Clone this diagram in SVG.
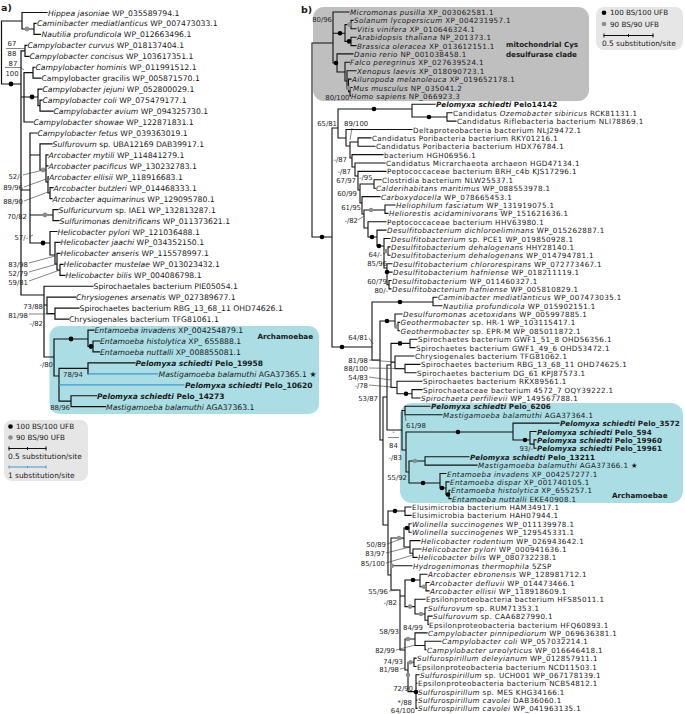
<svg xmlns="http://www.w3.org/2000/svg" width="685" height="714" viewBox="0 0 685 714">
<style>
text{font-family:"DejaVu Sans","Liberation Sans",sans-serif;font-size:7.7px;fill:#1a1a1a}
.i{font-style:italic}
.b{font-weight:bold}
.pa .b{font-size:7.5px}
.pb text{font-size:7.2px;letter-spacing:0.35px}
.pb text.b{letter-spacing:0.1px}
text.s{font-size:6.9px;fill:#2a2a2a;letter-spacing:0}
.lg text{font-size:7.2px}
.e{stroke:#111;stroke-width:1.2;fill:none;stroke-linecap:square}
.bl{stroke:#3d9ad6;stroke-width:1.2;fill:none}
.ld{stroke:#333;stroke-width:0.6;fill:none}
.k{fill:#000}
.g{fill:#8e8e8e}
text.hd{font-size:9.5px;font-weight:bold}
text.bt{font-size:7.2px;font-weight:bold}
</style>
<rect width="685" height="714" fill="#fff"/>
<g id="a-archamoebae-box"><rect x="49.5" y="326" width="269.5" height="88" rx="10" fill="#aadde4"/><text x="257.5" y="339" class="bt">Archamoebae</text></g>
<g id="a-legend" class="lg"><rect x="4" y="420" width="84" height="61" rx="8" fill="#e6e6e6"/>
<circle cx="10.5" cy="426.5" r="2.3" class="k"/><text x="16" y="429.2">100 BS/100 UFB</text>
<circle cx="10.5" cy="437.5" r="2.3" class="g"/><text x="16" y="440.2">90 BS/90 UFB</text>
<path class="e" d="M9 448.5H46M9 447V450M27.5 447.5V449.5M46 447V450" style="stroke-width:1"/>
<text x="8" y="459" style="font-size:7.4px">0.5 substitution/site</text>
<path class="bl" d="M9 467H46M9 465.5V468.5M27.5 466V468M46 465.5V468.5" style="stroke-width:1"/>
<text x="8" y="478" style="font-size:7.4px">1 substitution/site</text></g>
<g id="b-mito-box"><rect x="313" y="7" width="276" height="94" rx="11" fill="#bfbfbf"/><text x="506" y="47" class="bt" style="font-size:7.1px">mitochondrial Cys</text><text x="506" y="57" class="bt" style="font-size:7.1px">desulfurase clade</text></g>
<g id="b-archamoebae-box"><rect x="400" y="403" width="283" height="100" rx="12" fill="#aadde4"/><text x="612" y="498" class="bt">Archamoebae</text></g>
<g id="b-legend" class="lg"><rect x="596" y="7" width="87" height="43" rx="8" fill="#e6e6e6"/>
<circle cx="604" cy="12.7" r="2.3" class="k"/><text x="610" y="15.4">100 BS/100 UFB</text>
<circle cx="604" cy="24" r="2.3" class="g"/><text x="610" y="26.7">90 BS/90 UFB</text>
<path class="e" d="M604 35.5H653M604 34V37M628.5 34.5V36.5M653 34V37" style="stroke-width:1"/>
<text x="602" y="46" style="font-size:7.4px">0.5 substitution/site</text></g>
<g id="titles"><text x="1" y="11" class="hd">a)</text><text x="301" y="13" class="hd">b)</text></g>
<g id="connectors">
<path class="e" d="M1.5 21V84M1.5 21H22M22 12.5V29M22 12.5H47M22 29H34M34 23.45V34.4M34 23.45H36M34 34.4H40.5
M1.5 84H21M21 50.8V295
M21 50.8H25M25 45.35V56.3M25 45.35H27M25 56.3H29
M21 97H24M24 72.7V122M24 72.7H33M33 67.25V78.2M33 67.25H35M33 78.2H41
M24 97H38M38 89.15V105.6M38 89.15H42M38 105.6H40M40 100.1V111.05M40 100.1H42M40 111.05H53
M24 122H33
M21 190H30M30 133V243M30 133H37
M30 155H40M40 143.9V170M40 143.9H52M40 170H46M46 154.85V182M46 154.85H48M46 165.8H48M46 182H48M48 176.75V193M48 176.75H48.5M48 193H50M50 187.7V198.65M50 187.7H53M50 198.65H52
M30 215H53M53 209.6V220.55M53 209.6H58M53 220.55H59
M30 243H50M50 231.5V255M50 231.5H57M50 255H55M55 242.45V264M55 242.45H60M55 264H57M57 253.4V270M57 253.4H60M57 270H60M60 264.35V275.3M60 264.35H63M60 275.3H65
M21 295H44M44 286.25V357M44 286.25H93
M44 305H47M47 297.2V313.6M47 297.2H75.5M47 313.6H55M55 308.15V319.1M55 308.15H79M55 319.1H68.5
M44 357H54M54 339V376
M54 339H88M88 330.05V346.5M88 330.05H94M88 346.5H93M93 341V351.95M93 341H99.5M93 351.95H99.5
M54 376H59M59 368.4V401.2M59 368.4H88M88 362.9V373.85M88 362.9H135
M59 401.2H71M71 395.75V406.7M71 395.75H96.5M71 406.7H105.5"/>
<path class="bl" d="M88 373.85H158M59 384.8H184.5"/>
<path class="ld" d="M6 48.5H25M5 67.5H21L24 70M23 175L43 170M24 187L46 179M24 201L48 192M29 237L33 235M29 263L55 256M29 272L57 264M29 281L60 270M29 314H55"/>
<path class="e" style="stroke-width:1.1" d="M312 43V237M312 43H333M333 12V63M333 12H349
M333 33.2H345M345 24.6V41.4M345 24.6H351M351 20.4V28.8M351 20.4H353M351 28.8H356M345 41.4H351M351 37.2V45.6M351 37.2H356M351 45.6H356
M333 63H337M337 53.9V72M337 53.9H353M337 72H345M345 62.3V81M345 62.3H349.5M345 81H347M347 70.7V89M347 70.7H356M347 89H348.5M348.5 79.1V91.7M348.5 79.1H351M348.5 91.7H350M350 87.5V95.9M350 87.5H352M350 95.9H350.5
M312 237H332M332 128V347M332 128H338M338 109V138
M338 109H412M412 104.3V117M412 104.3H435M412 117H447M447 112.7V121.1M447 112.7H452M447 121.1H456
M338 138H346M346 129.5V146M346 129.5H412
M346 146H350M350 142V158M350 142H358M358 137.9V146.2M358 137.9H371M358 146.2H375
M350 158H352M352 154.6V167M352 154.6H383
M352 167H355M355 163V176M355 163H385
M355 176H358M358 171.4V190M358 171.4H386
M358 190H360M360 184V203M360 184H374M374 179.8V188.2M374 179.8H381M374 188.2H375.5
M360 203H362M362 196.6V214M362 196.6H380
M362 214H364M364 210V228M364 210H385M385 205V213.4M385 205H395M385 213.4H388
M364 228H368M368 221.8V237M368 221.8H386
M368 237H377M377 230.1V246M377 230.1H386
M377 246H384M384 238.5V268M384 238.5H390M384 251.1H388M388 246.9V255.3M388 246.9H390M388 255.3H390
M384 268H387M387 263.7V284.7M387 263.7H392M387 272.1H392M387 284.7H389M389 280.5V288.9M389 280.5H391M389 288.9H391
M332 347H372M372 302V360M372 302H433M433 297.3V305.7M433 297.3H437M433 305.7H442
M372 360H380M380 321V440M380 321H395M395 314V326.6M395 314H402M395 326.6H398M398 322.4V330.8M398 322.4H399.5M398 330.8H399.5
M380 440H383M383 397V525M383 397H387M387 365V430M387 365H391M391 343.4V387.5
M391 343.4H410M410 339.2V347.6M410 339.2H417M410 347.6H415
M391 362.3H395M395 356V368.6M395 356H414M395 368.6H405M405 364.4V372.8M405 364.4H420M405 372.8H416
M391 387.5H397M397 381.2V393.8M397 381.2H422M397 393.8H412M412 389.6V398M412 389.6H422M412 398H420
M387 430H402M402 410.5V450M402 410.5H405M405 406.3V414.7M405 406.3H430M405 414.7H442
M402 450H406M406 432V472M406 432H513M513 423.1V440M513 423.1H559M513 440H530M530 431.5V444.1M530 431.5H536M530 444.1H534M534 439.9V448.3M534 439.9H536M534 448.3H536
M406 472H409M409 461V483M409 461H425M425 456.7V465.1M425 456.7H469M425 465.1H477
M409 483H440M440 473.5V488M440 473.5H446M440 488H446M446 481.9V494.5M446 481.9H449M446 494.5H449M449 490.3V498.6M449 490.3H450M449 498.6H451
M383 525H388M388 511V575M388 511H405M405 507V515.4M405 507H411M405 515.4H411
M388 575H391M391 538V590M391 538H404M404 528V547M404 528H409M409 523.8V532.2M409 523.8H411M409 532.2H411
M404 547H410M410 540.6V553.2M410 540.6H420M410 553.2H413M413 549V557.4M413 549H421M413 557.4H417
M391 565.8H412
M391 590H400V650M400 596H405M405 580V606.6
M405 580H420M420 574.2V586.7M420 574.2H427M420 586.7H426M426 582.5V590.9M426 582.5H429M426 590.9H429
M405 606.6H415M415 599.3V614M415 599.3H425M415 614H425M425 607.7V620.3M425 607.7H427M425 620.3H428M428 616.1V624.5M428 616.1H432M428 624.5H428.5
M400 650H405M405 639V670M405 639H415M415 632.9V645.5M415 632.9H427M415 645.5H425M425 641.3V649.7M425 641.3H441M425 649.7H426
M405 670H408M408 662.3V691.6M408 662.3H414M414 658.1V666.5M414 658.1H416M414 666.5H416
M408 691.6H416M416 674.8V708.4M416 674.8H419M416 683.2H417M416 691.6H417M416 700H417M416 708.4H417"/>
<path class="ld" d="M352 128L350 140M358 220L364 216M383 254L388 251M369 338L373 344M369 360L395 362M369 368L405 368.6M369 377L391 380M369 385L397 387.5M406 421L405 415M388 437.5H399M387 544L404 538M386 553L410 547M386 563L413 555M389 591L398 590M396 650L415 645M400 669L405 668"/>
</g>
<g id="support-dots">
<circle cx="11" cy="84" r="2.4" class="k"/><circle cx="27" cy="29" r="2.4" class="g"/><circle cx="32" cy="97" r="2.4" class="k"/><circle cx="43" cy="170" r="2.4" class="g"/><circle cx="45" cy="215" r="2.4" class="g"/><circle cx="43" cy="243" r="2.4" class="k"/><circle cx="71" cy="339" r="2.4" class="k"/><circle cx="91" cy="346.5" r="2.4" class="k"/>
<circle cx="340" cy="33.2" r="2.3" class="k"/><circle cx="349" cy="41.4" r="2.3" class="k"/><circle cx="336" cy="63" r="2.3" class="k"/><circle cx="322" cy="237" r="2.3" class="k"/><circle cx="374" cy="109" r="2.3" class="k"/><circle cx="429" cy="117" r="2.3" class="k"/><circle cx="379" cy="246" r="2.3" class="k"/><circle cx="387" cy="272" r="2.3" class="k"/><circle cx="372" cy="237" r="2.3" class="k"/><circle cx="342" cy="347" r="2.3" class="k"/><circle cx="400" cy="302" r="2.3" class="k"/><circle cx="387" cy="321" r="2.3" class="k"/><circle cx="400" cy="343.4" r="2.3" class="k"/><circle cx="406" cy="393.8" r="2.3" class="k"/><circle cx="458" cy="432" r="2.3" class="k"/><circle cx="525" cy="440" r="2.3" class="k"/><circle cx="423" cy="483" r="2.3" class="k"/><circle cx="442" cy="488" r="2.3" class="k"/><circle cx="448" cy="494.5" r="2.3" class="k"/><circle cx="395" cy="511" r="2.3" class="k"/><circle cx="407" cy="528" r="2.3" class="k"/><circle cx="413" cy="580" r="2.3" class="k"/><circle cx="416" cy="692" r="2.3" class="k"/>
<circle cx="349.5" cy="24.6" r="2.3" class="g"/><circle cx="348.5" cy="88" r="2.3" class="g"/><circle cx="371" cy="210" r="2.3" class="g"/><circle cx="386" cy="251.1" r="2.3" class="g"/><circle cx="396.5" cy="326.6" r="2.3" class="g"/><circle cx="415" cy="461" r="2.3" class="g"/><circle cx="399" cy="538" r="2.3" class="g"/><circle cx="392" cy="565.8" r="2.3" class="g"/><circle cx="424" cy="586.7" r="2.3" class="g"/><circle cx="410" cy="606.6" r="2.3" class="g"/><circle cx="421" cy="614" r="2.3" class="g"/><circle cx="408" cy="639" r="2.3" class="g"/><circle cx="410.5" cy="662.3" r="2.3" class="g"/><circle cx="408" cy="675" r="2.3" class="g"/>
</g>
<g id="support-labels-a">
<text x="12" y="46" class="s" text-anchor="middle">67</text><text x="12" y="56" class="s" text-anchor="middle">88</text>
<text x="13" y="65.5" class="s" text-anchor="middle">87</text><text x="12" y="75.5" class="s" text-anchor="middle">100</text>
<text x="22" y="178.5" class="s" text-anchor="end">52/-</text>
<text x="23" y="190" class="s" text-anchor="end">89/96</text>
<text x="23" y="204" class="s" text-anchor="end">88/90</text>
<text x="27" y="219" class="s" text-anchor="end">70/82</text>
<text x="28" y="240" class="s" text-anchor="end">57/-</text>
<text x="28" y="266.5" class="s" text-anchor="end">83/98</text>
<text x="28" y="276" class="s" text-anchor="end">52/79</text>
<text x="28" y="285" class="s" text-anchor="end">59/81</text>
<text x="43" y="309" class="s" text-anchor="end">73/88</text>
<text x="28" y="318" class="s" text-anchor="end">81/98</text>
<text x="43" y="325.5" class="s" text-anchor="end">-/82</text>
<text x="53" y="367" class="s" text-anchor="end">-/80</text>
<text x="63" y="377" class="s">78/94</text>
<text x="70" y="410" class="s" text-anchor="end">88/96</text>
</g>
<g id="support-labels-b">
<text x="332" y="22" class="s" text-anchor="end">80/96</text>
<text x="349.5" y="99.5" class="s" text-anchor="end">80/100</text>
<text x="337" y="126" class="s" text-anchor="end">65/81</text>
<text x="344" y="126" class="s">89/100</text>
<text x="347" y="162" class="s" text-anchor="end">-/87</text>
<text x="351" y="174" class="s" text-anchor="end">-/87</text>
<text x="356" y="183" class="s" text-anchor="end">67/97</text>
<text x="359" y="180" class="s">-/95</text>
<text x="357" y="196" class="s" text-anchor="end">60/99</text>
<text x="361" y="210" class="s" text-anchor="end">61/95</text>
<text x="358" y="223" class="s" text-anchor="end">-/82</text>
<text x="382" y="257" class="s" text-anchor="end">64/-</text>
<text x="387" y="266" class="s" text-anchor="end">85/96</text>
<text x="387" y="284" class="s" text-anchor="end">60/79</text>
<text x="388" y="293" class="s" text-anchor="end">80/-</text>
<text x="368" y="340" class="s" text-anchor="end">64/81</text>
<text x="368" y="363" class="s" text-anchor="end">81/98</text>
<text x="368" y="371" class="s" text-anchor="end">88/100</text>
<text x="368" y="380" class="s" text-anchor="end">54/83</text>
<text x="368" y="388" class="s" text-anchor="end">-/78</text>
<text x="378" y="401" class="s" text-anchor="end">53/87</text>
<text x="406" y="427.5" class="s">61/98</text>
<text x="393.5" y="434" class="s" text-anchor="middle">-</text><text x="393.5" y="447.5" class="s" text-anchor="middle">84</text>
<text x="533" y="451" class="s" text-anchor="end">93/-</text>
<text x="402" y="460" class="s" text-anchor="end">-/83</text>
<text x="407" y="480" class="s" text-anchor="end">55/92</text>
<text x="386" y="547" class="s" text-anchor="end">50/89</text>
<text x="385" y="556" class="s" text-anchor="end">83/97</text>
<text x="385" y="566" class="s" text-anchor="end">85/100</text>
<text x="388" y="594" class="s" text-anchor="end">55/96</text>
<text x="397" y="605" class="s" text-anchor="end">-/82</text>
<text x="403" y="630" class="s">84/99</text>
<text x="399" y="634" class="s" text-anchor="end">58/93</text>
<text x="395" y="653" class="s" text-anchor="end">82/99</text>
<text x="403" y="664" class="s" text-anchor="end">74/93</text>
<text x="399" y="672" class="s" text-anchor="end">81/98</text>
<text x="413" y="691" class="s" text-anchor="end">72/90</text>
<text x="412" y="704.5" class="s" text-anchor="end">*/88</text>
<text x="415" y="713" class="s" text-anchor="end">64/100</text>
</g>
<g id="leaves-a" class="pa">
<g id="a01"><text x="48" y="15.5"><tspan class="i">Hippea jasoniae</tspan> WP_035589794.1</text></g>
<g id="a02"><text x="37" y="26.45"><tspan class="i">Caminibacter mediatlanticus</tspan> WP_007473033.1</text></g>
<g id="a03"><text x="41.5" y="37.4"><tspan class="i">Nautilia profundicola</tspan> WP_012663496.1</text></g>
<g id="a04"><text x="27.5" y="48.35"><tspan class="i">Campylobacter curvus</tspan> WP_018137404.1</text></g>
<g id="a05"><text x="29.5" y="59.3"><tspan class="i">Campylobacter concisus</tspan> WP_103617351.1</text></g>
<g id="a06"><text x="35.5" y="70.25"><tspan class="i">Campylobacter hominis</tspan> WP_011991512.1</text></g>
<g id="a07"><text x="41.5" y="81.2">Campylobacter gracilis WP_005871570.1</text></g>
<g id="a08"><text x="42.5" y="92.15"><tspan class="i">Campylobacter jejuni</tspan> WP_052800029.1</text></g>
<g id="a09"><text x="42.5" y="103.1"><tspan class="i">Campylobacter coli</tspan> WP_075479177.1</text></g>
<g id="a10"><text x="53.5" y="114.05"><tspan class="i">Campylobacter avium</tspan> WP_094325730.1</text></g>
<g id="a11"><text x="33.5" y="125"><tspan class="i">Campylobacter showae</tspan> WP_122871831.1</text></g>
<g id="a12"><text x="37.5" y="135.95"><tspan class="i">Campylobacter fetus</tspan> WP_039363019.1</text></g>
<g id="a13"><text x="52.5" y="146.9"><tspan class="i">Sulfurovum</tspan> sp. UBA12169 DAB39917.1</text></g>
<g id="a14"><text x="48.5" y="157.85"><tspan class="i">Arcobacter mytili</tspan> WP_114841279.1</text></g>
<g id="a15"><text x="48.5" y="168.8"><tspan class="i">Arcobacter pacificus</tspan> WP_130232783.1</text></g>
<g id="a16"><text x="49" y="179.75"><tspan class="i">Arcobacter ellisii</tspan> WP_118916683.1</text></g>
<g id="a17"><text x="53.5" y="190.7"><tspan class="i">Arcobacter butzleri</tspan> WP_014468333.1</text></g>
<g id="a18"><text x="52.5" y="201.65"><tspan class="i">Arcobacter aquimarinus</tspan> WP_129095780.1</text></g>
<g id="a19"><text x="58.5" y="212.6"><tspan class="i">Sulfuricurvum</tspan> sp. IAE1 WP_132813287.1</text></g>
<g id="a20"><text x="59.5" y="223.55"><tspan class="i">Sulfurimonas denitrificans</tspan> WP_011373621.1</text></g>
<g id="a21"><text x="57.5" y="234.5"><tspan class="i">Helicobacter pylori</tspan> WP_121036488.1</text></g>
<g id="a22"><text x="60.5" y="245.45"><tspan class="i">Helicobacter jaachi</tspan> WP_034352150.1</text></g>
<g id="a23"><text x="60.5" y="256.4"><tspan class="i">Helicobacter anseris</tspan> WP_115578997.1</text></g>
<g id="a24"><text x="63.5" y="267.35"><tspan class="i">Helicobacter mustelae</tspan> WP_013023432.1</text></g>
<g id="a25"><text x="65.5" y="278.3"><tspan class="i">Helicobacter bilis</tspan> WP_004086798.1</text></g>
<g id="a26"><text x="93.5" y="289.25">Spirochaetales bacterium PIE05054.1</text></g>
<g id="a27"><text x="76" y="300.2"><tspan class="i">Chrysiogenes arsenatis</tspan> WP_027389677.1</text></g>
<g id="a28"><text x="79.5" y="311.15">Spirochaetes bacterium RBG_13_68_11 OHD74626.1</text></g>
<g id="a29"><text x="69" y="322.1">Chrysiogenales bacterium TFG81061.1</text></g>
<g id="a30"><text x="94.5" y="333.05"><tspan class="i">Entamoeba invadens</tspan> XP_004254879.1</text></g>
<g id="a31"><text x="100" y="344"><tspan class="i">Entamoeba histolytica</tspan> XP_ 655888.1</text></g>
<g id="a32"><text x="100" y="354.95"><tspan class="i">Entamoeba nuttalli</tspan> XP_008855081.1</text></g>
<g id="a33"><text x="135.5" y="365.9" class="b"><tspan class="i">Pelomyxa schiedti</tspan> Pelo_19958</text></g>
<g id="a34"><text x="158.5" y="376.85"><tspan class="i">Mastigamoeba balamuthi</tspan> AGA37365.1 ★</text></g>
<g id="a35"><text x="185" y="387.8" class="b"><tspan class="i">Pelomyxa schiedti</tspan> Pelo_10620</text></g>
<g id="a36"><text x="97" y="398.75" class="b"><tspan class="i">Pelomyxa schiedti</tspan> Pelo_14273</text></g>
<g id="a37"><text x="106" y="409.7"><tspan class="i">Mastigamoeba balamuthi</tspan> AGA37363.1</text></g>
</g>
<g id="leaves-b" class="pb">
<g id="b01"><text x="350" y="15"><tspan class="i">Micromonas pusilla</tspan> XP_003062581.1</text></g>
<g id="b02"><text x="354" y="23.4"><tspan class="i">Solanum lycopersicum</tspan> XP_004231957.1</text></g>
<g id="b03"><text x="357" y="31.8"><tspan class="i">Vitis vinifera</tspan> XP_010646324.1</text></g>
<g id="b04"><text x="357" y="40.2"><tspan class="i">Arabidopsis thaliana</tspan> NP_201373.1</text></g>
<g id="b05"><text x="357" y="48.6"><tspan class="i">Brassica oleracea</tspan> XP_013612151.1</text></g>
<g id="b06"><text x="354" y="56.9"><tspan class="i">Danio rerio</tspan> NP_001038458.1</text></g>
<g id="b07"><text x="350" y="65.3"><tspan class="i">Falco peregrinus</tspan> XP_027639524.1</text></g>
<g id="b08"><text x="357" y="73.7"><tspan class="i">Xenopus laevis</tspan> XP_018090723.1</text></g>
<g id="b09"><text x="352" y="82.1"><tspan class="i">Ailuropoda melanoleuca</tspan> XP_019652178.1</text></g>
<g id="b10"><text x="353" y="90.5"><tspan class="i">Mus musculus</tspan> NP_035041.2</text></g>
<g id="b11"><text x="351" y="98.9"><tspan class="i">Homo sapiens</tspan> NP_066923.3</text></g>
<g id="b12"><text x="436" y="107.3" class="b"><tspan class="i">Pelomyxa schiedti</tspan> Pelo14142</text></g>
<g id="b13"><text x="453" y="115.7">Candidatus <tspan class="i">Ozemobacter sibiricus</tspan> RCK81131.1</text></g>
<g id="b14"><text x="457" y="124.1">Candidatus Riflebacteria bacterium NLI78869.1</text></g>
<g id="b15"><text x="413" y="132.5">Deltaproteobacteria bacterium NLJ29472.1</text></g>
<g id="b16"><text x="372" y="140.9">Candidatus Poribacteria bacterium RKY01216.1</text></g>
<g id="b17"><text x="376" y="149.2">Candidatus Poribacteria bacterium HDX76784.1</text></g>
<g id="b18"><text x="384" y="157.6">bacterium HGH06956.1</text></g>
<g id="b19"><text x="386" y="166">Candidatus Micrarchaeota archaeon HGD47134.1</text></g>
<g id="b20"><text x="387" y="174.4">Peptococcaceae bacterium BRH_c4b KJS17296.1</text></g>
<g id="b21"><text x="382" y="182.8">Clostridia bacterium NLW25537.1</text></g>
<g id="b22"><text x="376" y="191.2"><tspan class="i">Calderihabitans maritimus</tspan> WP_088553978.1</text></g>
<g id="b23"><text x="381" y="199.6"><tspan class="i">Carboxydocella</tspan> WP_078665453.1</text></g>
<g id="b24"><text x="396" y="208"><tspan class="i">Heliophilum fasciatum</tspan> WP_131919075.1</text></g>
<g id="b25"><text x="389" y="216.4"><tspan class="i">Heliorestis acidaminivorans</tspan> WP_151621636.1</text></g>
<g id="b26"><text x="387" y="224.8">Peptococcaceae bacterium HHV63980.1</text></g>
<g id="b27"><text x="387" y="233.1"><tspan class="i">Desulfitobacterium dichloroeliminans</tspan> WP_015262887.1</text></g>
<g id="b28"><text x="391" y="241.5"><tspan class="i">Desulfitobacterium</tspan> sp. PCE1 WP_019850928.1</text></g>
<g id="b29"><text x="391" y="249.9"><tspan class="i">Desulfitobacterium dehalogenans</tspan> HHY28140.1</text></g>
<g id="b30"><text x="391" y="258.3"><tspan class="i">Desulfitobacterium dehalogenans</tspan> WP_014794781.1</text></g>
<g id="b31"><text x="393" y="266.7"><tspan class="i">Desulfitobacterium chlororespirans</tspan> WP_072773467.1</text></g>
<g id="b32"><text x="393" y="275.1"><tspan class="i">Desulfitobacterium hafniense</tspan> WP_018211119.1</text></g>
<g id="b33"><text x="392" y="283.5"><tspan class="i">Desulfitobacterium</tspan> WP_011460327.1</text></g>
<g id="b34"><text x="392" y="291.9"><tspan class="i">Desulfitobacterium hafniense</tspan> WP_005810829.1</text></g>
<g id="b35"><text x="438" y="300.3"><tspan class="i">Caminibacter mediatlanticus</tspan> WP_007473035.1</text></g>
<g id="b36"><text x="443" y="308.7"><tspan class="i">Nautilia profundicola</tspan> WP_015902151.1</text></g>
<g id="b37"><text x="403" y="317"><tspan class="i">Desulfuromonas acetoxidans</tspan> WP_005997885.1</text></g>
<g id="b38"><text x="400.5" y="325.4"><tspan class="i">Geothermobacter</tspan> sp. HR-1 WP_103115417.1</text></g>
<g id="b39"><text x="400.5" y="333.8"><tspan class="i">Geothermobacter</tspan> sp. EPR-M WP_085011872.1</text></g>
<g id="b40"><text x="418" y="342.2">Spirochaetes bacterium GWF1_51_8 OHD56356.1</text></g>
<g id="b41"><text x="416" y="350.6">Spirochaetes bacterium GWF1_49_6 OHD53472.1</text></g>
<g id="b42"><text x="415" y="359">Chrysiogenales bacterium TFG81062.1</text></g>
<g id="b43"><text x="421" y="367.4">Spirochaetes bacterium RBG_13_68_11 OHD74625.1</text></g>
<g id="b44"><text x="417" y="375.8">Spirochaetes bacterium DG_61 KPJ87573.1</text></g>
<g id="b45"><text x="423" y="384.2">Spirochaetes bacterium RKX89561.1</text></g>
<g id="b46"><text x="423" y="392.6">Spirochaetaceae bacterium 4572_7 OQY39222.1</text></g>
<g id="b47"><text x="421" y="401"><tspan class="i">Spirochaeta perfilievii</tspan> WP_149567788.1</text></g>
<g id="b48"><text x="431" y="409.3" class="b"><tspan class="i">Pelomyxa schiedti</tspan> Pelo_6206</text></g>
<g id="b49"><text x="443" y="417.7"><tspan class="i">Mastigamoeba balamuthi</tspan> AGA37364.1</text></g>
<g id="b50"><text x="560" y="426.1" class="b"><tspan class="i">Pelomyxa schiedti</tspan> Pelo_3572</text></g>
<g id="b51"><text x="537" y="434.5" class="b"><tspan class="i">Pelomyxa schiedti</tspan> Pelo_594</text></g>
<g id="b52"><text x="537" y="442.9" class="b"><tspan class="i">Pelomyxa schiedti</tspan> Pelo_19960</text></g>
<g id="b53"><text x="537" y="451.3" class="b"><tspan class="i">Pelomyxa schiedti</tspan> Pelo_19961</text></g>
<g id="b54"><text x="470" y="459.7" class="b"><tspan class="i">Pelomyxa schiedti</tspan> Pelo_13211</text></g>
<g id="b55"><text x="478" y="468.1"><tspan class="i">Mastigamoeba balamuthi</tspan> AGA37366.1 ★</text></g>
<g id="b56"><text x="447" y="476.5"><tspan class="i">Entamoeba invadens</tspan> XP_004257277.1</text></g>
<g id="b57"><text x="450" y="484.9"><tspan class="i">Entamoeba dispar</tspan> XP_001740105.1</text></g>
<g id="b58"><text x="451" y="493.3"><tspan class="i">Entamoeba histolytica</tspan> XP_655257.1</text></g>
<g id="b59"><text x="452" y="501.6"><tspan class="i">Entamoeba nuttalli</tspan> EKE40908.1</text></g>
<g id="b60"><text x="412" y="510">Elusimicrobia bacterium HAM34917.1</text></g>
<g id="b61"><text x="412" y="518.4">Elusimicrobia bacterium HAH07944.1</text></g>
<g id="b62"><text x="412" y="526.8"><tspan class="i">Wolinella succinogenes</tspan> WP_011139978.1</text></g>
<g id="b63"><text x="412" y="535.2"><tspan class="i">Wolinella succinogenes</tspan> WP_129545331.1</text></g>
<g id="b64"><text x="421" y="543.6"><tspan class="i">Helicobacter rodentium</tspan> WP_026943642.1</text></g>
<g id="b65"><text x="422" y="552"><tspan class="i">Helicobacter pylori</tspan> WP_000941636.1</text></g>
<g id="b66"><text x="418" y="560.4"><tspan class="i">Helicobacter bilis</tspan> WP_080732238.1</text></g>
<g id="b67"><text x="413" y="568.8"><tspan class="i">Hydrogenimonas thermophila</tspan> 5ZSP</text></g>
<g id="b68"><text x="428" y="577.2"><tspan class="i">Arcobacter ebronensis</tspan> WP_128981712.1</text></g>
<g id="b69"><text x="430" y="585.5"><tspan class="i">Arcobacter defluvii</tspan> WP_014473466.1</text></g>
<g id="b70"><text x="430" y="593.9"><tspan class="i">Arcobacter ellisii</tspan> WP_118918609.1</text></g>
<g id="b71"><text x="426" y="602.3">Epsilonproteobacteria bacterium HFS85011.1</text></g>
<g id="b72"><text x="428" y="610.7"><tspan class="i">Sulfurovum</tspan> sp. RUM71353.1</text></g>
<g id="b73"><text x="433" y="619.1"><tspan class="i">Sulfurovum</tspan> sp. CAA6827990.1</text></g>
<g id="b74"><text x="429" y="627.5">Epsilonproteobacteria bacterium HFQ60893.1</text></g>
<g id="b75"><text x="428" y="635.9"><tspan class="i">Campylobacter pinnipediorum</tspan> WP_069636381.1</text></g>
<g id="b76"><text x="442" y="644.3"><tspan class="i">Campylobacter coli</tspan> WP_057032214.1</text></g>
<g id="b77"><text x="427" y="652.7"><tspan class="i">Campylobacter ureolyticus</tspan> WP_016646418.1</text></g>
<g id="b78"><text x="417" y="661.1"><tspan class="i">Sulfurospirillum deleyianum</tspan> WP_012857911.1</text></g>
<g id="b79"><text x="417" y="669.5">Epsilonproteobacteria bacterium NCD11503.1</text></g>
<g id="b80"><text x="420" y="677.8"><tspan class="i">Sulfurospirillum</tspan> sp. UCH001 WP_067178139.1</text></g>
<g id="b81"><text x="418" y="686.2">Epsilonproteobacteria bacterium NCB54812.1</text></g>
<g id="b82"><text x="418" y="694.6"><tspan class="i">Sulfurospirillum</tspan> sp. MES KHG34166.1</text></g>
<g id="b83"><text x="418" y="703"><tspan class="i">Sulfurospirillum cavolei</tspan> DAB36060.1</text></g>
<g id="b84"><text x="418" y="711.4"><tspan class="i">Sulfurospirillum cavolei</tspan> WP_041963135.1</text></g>
</g>
</svg>
